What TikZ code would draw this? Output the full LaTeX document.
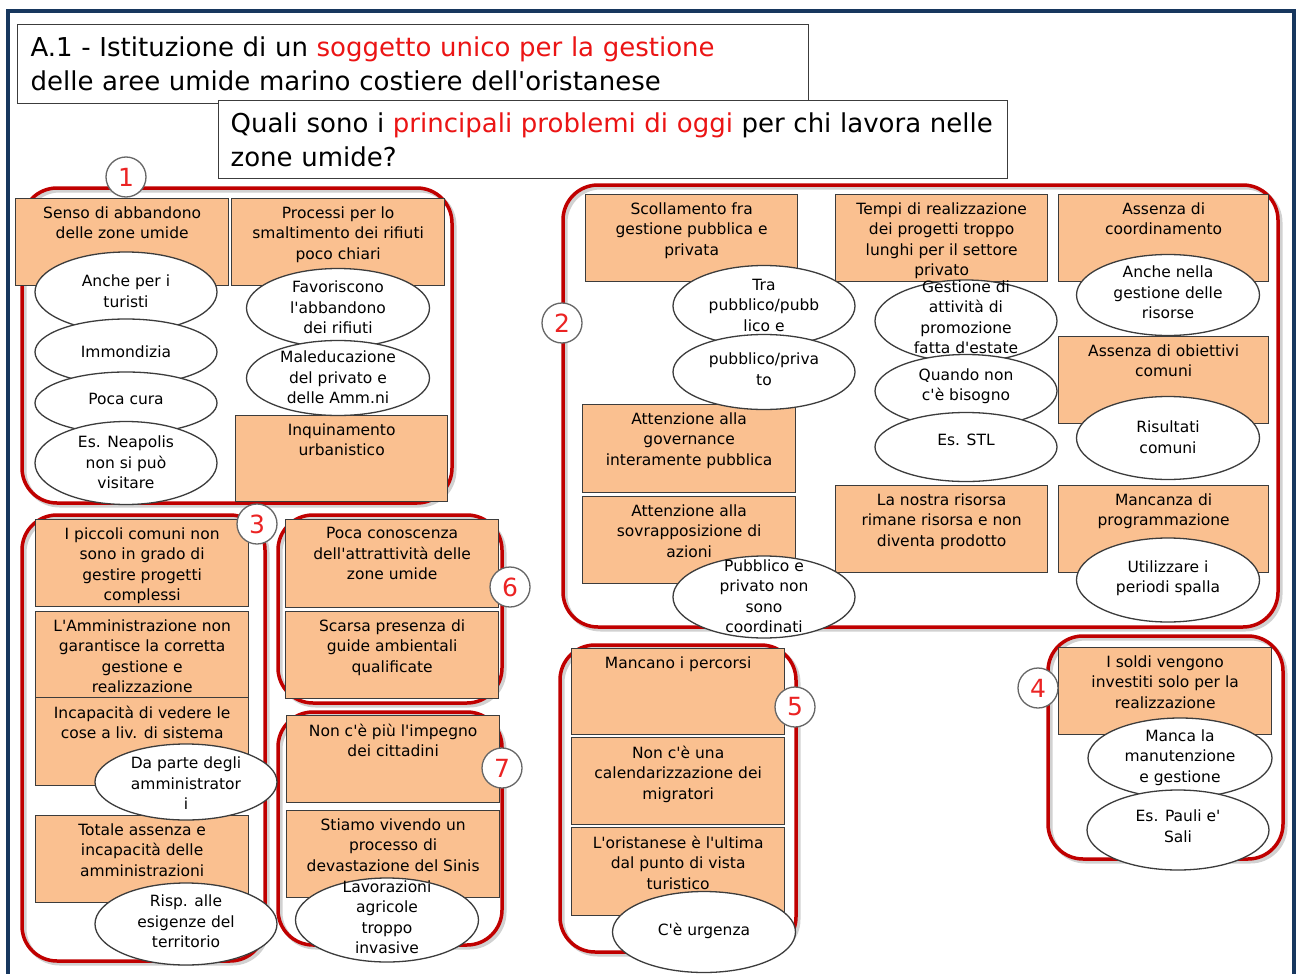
\documentclass[tikz,border=0pt]{standalone}
\usepackage{fontspec}
\setmainfont{DejaVu Sans}[Ligatures=TeXOff]
\usetikzlibrary{shapes.geometric}
\definecolor{peach}{RGB}{250,192,144}
\definecolor{grpred}{RGB}{192,0,0}
\definecolor{navy}{RGB}{23,55,94}
\definecolor{edgec}{RGB}{60,60,60}
\definecolor{numred}{RGB}{235,35,35}
\definecolor{hired}{RGB}{235,20,20}
\newcommand\btxt{\fontsize{15.5}{20.5}\selectfont}
\newcommand\ttxt{\fontsize{26}{34}\selectfont}
\newcommand\bx[6]{\node[boxst,anchor=north west] (#1) at (#2,#3) {\parbox[c][#5pt][t]{#4pt}{\centering\vspace*{8pt}#6\par}};}
\newcommand\el[7]{\node[ellst,minimum width=#4pt,minimum height=#5pt] (#1) at (#2,#3) {\makebox[0pt]{\smash{\raisebox{#6pt}{\raisebox{-3pt}{\parbox[c]{180pt}{\centering #7}}}}}};}
\begin{document}
\begin{tikzpicture}[x=1pt,y=-1pt,
  boxst/.style={draw=edgec,fill=peach,line width=1.3pt,inner sep=0pt,font=\btxt},
  ellst/.style={ellipse,draw=edgec,fill=white,line width=1.3pt,inner sep=0pt,font=\btxt},
  grp/.style={draw=grpred,line width=3.5pt,rounded corners=35pt},
  grpsh/.style={draw=black,opacity=0.18,line width=4pt,rounded corners=35pt},
  numc/.style={circle,draw=gray!80!black,fill=white,line width=1.3pt,minimum size=40pt,inner sep=0pt,text=numred,font=\fontsize{25}{25}\selectfont},
  tbox/.style={draw=edgec,fill=white,line width=1.2pt,inner ysep=0pt,align=left,font=\ttxt},
  frame/.style={draw=navy,line width=3.5pt}]
\useasboundingbox (0,0) rectangle (1296,974);
\fill[white] (0,0) rectangle (1296,974);
\draw[frame] (8,974) -- (8,11) -- (1294,11) -- (1294,974);

% headings
\node[tbox,anchor=north west,minimum width=791pt,minimum height=79pt,text width=765pt,inner xsep=13pt] (title) at (17,24)
  {A.1 - Istituzione di un \textcolor{hired}{soggetto unico per la gestione}\\delle aree umide marino costiere dell'oristanese};
\node[tbox,anchor=north west,minimum width=789pt,minimum height=78pt,text width=765pt,inner xsep=12pt] (question) at (218,100)
  {Quali sono i \textcolor{hired}{principali problemi di oggi} per chi lavora nelle\\zone umide?};

% group frames (shadow + red)
\foreach \a/\b/\c/\d in {22/188/452/503, 563/185/1278/627, 22/515/265/961, 278/515/502/703, 278/712/502/945, 560/645/796/952, 1048/636/1283/859}{
  \draw[grpsh] (\a+2.5,\b+2.5) rectangle (\c+2.5,\d+2.5);
  \draw[grp] (\a,\b) rectangle (\c,\d);
}

% boxes: group 1
\bx{bA}{15}{198}{213}{87}{Senso di abbandono\\delle zone umide}
\bx{bB}{231}{198}{213}{87}{Processi per lo\\smaltimento dei rifiuti\\poco chiari}
\bx{bC}{235}{415}{212}{86}{Inquinamento\\urbanistico}
% group 2
\bx{bD}{585}{194}{212}{87}{Scollamento fra\\gestione pubblica e\\privata}
\bx{bE}{835}{194}{212}{87}{Tempi di realizzazione\\dei progetti troppo\\lunghi per il settore\\privato}
\bx{bF}{1058}{194}{210}{87}{Assenza di\\coordinamento}
\bx{bG}{1058}{336}{210}{87}{Assenza di obiettivi\\comuni}
\bx{bH}{582}{404}{213}{88}{Attenzione alla\\governance\\interamente pubblica}
\bx{bI}{582}{496}{213}{87}{Attenzione alla\\sovrapposizione di\\azioni}
\bx{bJ}{835}{485}{212}{87}{La nostra risorsa\\rimane risorsa e non\\diventa prodotto}
\bx{bK}{1058}{485}{210}{87}{Mancanza di\\programmazione}
% group 3
\bx{bL}{35}{519}{213}{87}{I piccoli comuni non\\sono in grado di\\gestire progetti\\complessi}
\bx{bM}{35}{611}{213}{86}{L'Amministrazione non\\garantisce la corretta\\gestione e\\realizzazione}
\bx{bN}{35}{697}{213}{88}{Incapacità di vedere le\\cose a liv. di sistema}
\bx{bO}{35}{815}{213}{87}{Totale assenza e\\incapacità delle\\amministrazioni}
% group 6
\bx{bP}{285}{519}{213}{88}{Poca conoscenza\\dell'attrattività delle\\zone umide}
\bx{bQ}{285}{611}{213}{87}{Scarsa presenza di\\guide ambientali\\qualificate}
% group 7
\bx{bR}{286}{715}{213}{87}{Non c'è più l'impegno\\dei cittadini}
\bx{bS}{286}{810}{213}{87}{Stiamo vivendo un\\processo di\\devastazione del Sinis}
% group 5
\bx{bT}{571}{648}{213}{86}{Mancano i percorsi}
\bx{bU}{571}{737}{213}{87}{Non c'è una\\calendarizzazione dei\\migratori}
\bx{bV}{571}{827}{213}{88}{L'oristanese è l'ultima\\dal punto di vista\\turistico}
% group 4
\bx{bW}{1058}{647}{213}{87}{I soldi  vengono\\investiti solo per la\\realizzazione}

% ellipses
\el{eA}{126}{292}{182}{80}{0}{Anche per i\\turisti}
\el{eB}{126}{352}{182}{66}{0}{Immondizia}
\el{eC}{126}{403}{182}{62}{3}{Poca cura}
\el{eD}{126}{463}{182}{83}{0}{Es. Neapolis\\non si può\\visitare}
\el{eE}{338}{308}{183}{79}{0}{Favoriscono\\l'abbandono\\dei rifiuti}
\el{eF}{338}{378}{183}{75}{0}{Maleducazione\\del privato e\\delle Amm.ni}
\el{eG}{764}{306}{182}{81}{0}{Tra\\pubblico/pubb\\lico e}
\el{eH}{764}{372}{182}{75}{2}{pubblico/priva\\to}
\el{eI}{966}{321}{182}{82}{3}{Gestione di\\attività di\\promozione\\fatta d'estate}
\el{eJ}{966}{391}{182}{73}{4}{Quando non\\c'è bisogno}
\el{eK}{966}{447}{182}{69}{7}{Es. STL}
\el{eL}{1168}{295}{183}{81}{2}{Anche nella\\gestione delle\\risorse}
\el{eM}{1168}{438}{183}{83}{0}{Risultati\\comuni}
\el{eN}{764}{597}{182}{82}{0}{Pubblico e\\privato non\\sono\\coordinati}
\el{eO}{1168}{580}{183}{84}{1}{Utilizzare i\\periodi spalla}
\el{eP}{186}{782}{182}{76}{-2}{Da parte degli\\amministrator\\i}
\el{eQ}{186}{924}{182}{82}{2}{Risp. alle\\esigenze del\\territorio}
\el{eR}{387}{920}{183}{84}{2}{Lavorazioni\\agricole\\troppo\\invasive}
\el{eS}{704}{932}{183}{81}{0}{C'è urgenza}
\el{eT}{1180}{758}{184}{80}{0}{Manca la\\manutenzione\\e gestione}
\el{eU}{1178}{830}{182}{80}{3}{Es. Pauli e'\\Sali}

% numbers
\node[numc] (n1) at (126,177) {1};
\node[numc] (n2) at (562,323) {2};
\node[numc] (n3) at (257,524) {3};
\node[numc] (n4) at (1038,688) {4};
\node[numc] (n5) at (795,707) {5};
\node[numc] (n6) at (510,587) {6};
\node[numc] (n7) at (502,768) {7};
\end{tikzpicture}
\end{document}
